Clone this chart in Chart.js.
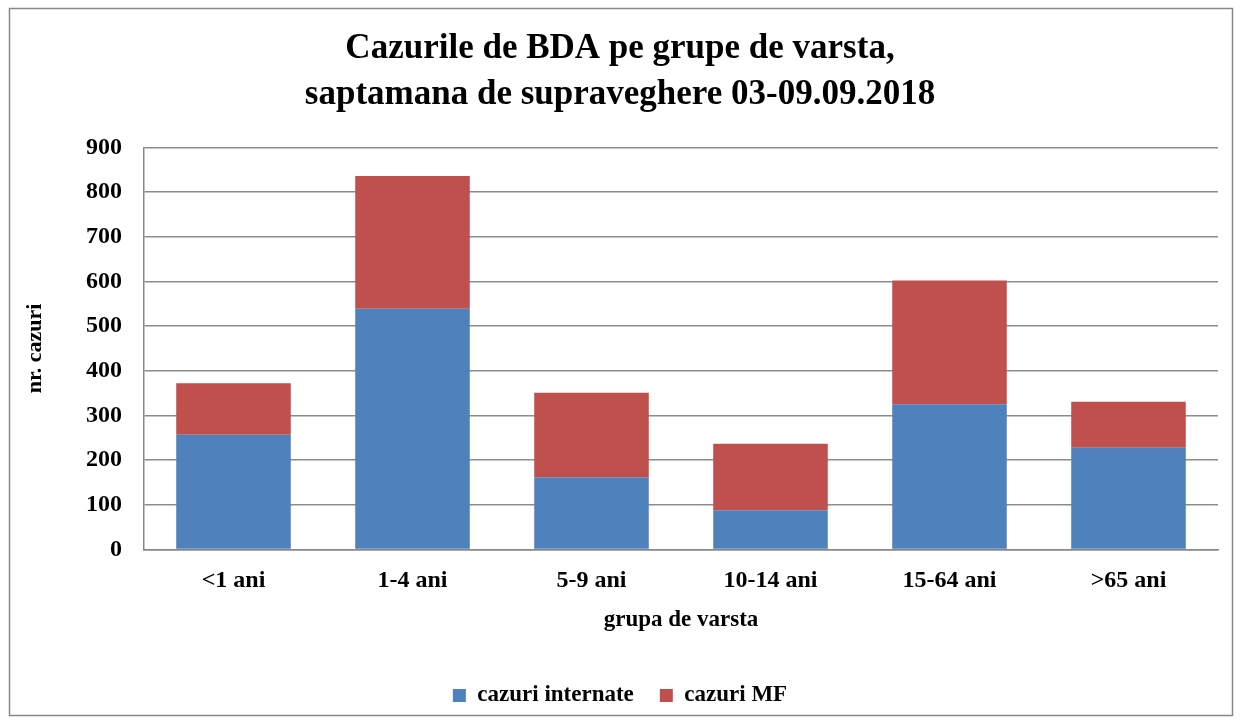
<!DOCTYPE html>
<html>
<head>
<meta charset="utf-8">
<script src="https://cdn.jsdelivr.net/npm/chart.js@4"></script>
<style>
    body { margin: 0; background: #fff; }
    #wrap { width: 1241px; height: 723px; position: relative; }
</style>
</head>
<body>
<div id="wrap"><canvas id="BdaChart"></canvas></div>
<script>
// Chart data
const ageGroups = ['<1 ani', '1-4 ani', '5-9 ani', '10-14 ani', '15-64 ani', '>65 ani'];
const casesHospital = [257, 539, 162, 88, 325, 228];
const casesFamilyDoctor = [115, 297, 189, 149, 277, 103];
const yTicks = [0, 100, 200, 300, 400, 500, 600, 700, 800, 900];

const serif = "'Liberation Serif', 'Times New Roman', serif";

// frame around the whole chart, like the office export
const framePlugin = {
    id: 'frame',
    beforeDraw(chart) {
        const ctx = chart.ctx;
        ctx.save();
        ctx.fillStyle = '#fff';
        ctx.fillRect(0, 0, chart.width, chart.height);
        ctx.strokeStyle = '#888';
        ctx.lineWidth = 1.5;
        ctx.strokeRect(9.5, 8.5, 1223, 707);
        ctx.restore();
    }
};

document.addEventListener("DOMContentLoaded", () => {
    const ctx = document.getElementById('BdaChart').getContext('2d');
    new Chart(ctx, {
        type: 'bar',
        data: {
            labels: ageGroups,
            datasets: [{
                label: 'cazuri internate',
                data: casesHospital,
                backgroundColor: '#4f81bd'
            }, {
                label: 'cazuri MF',
                data: casesFamilyDoctor,
                backgroundColor: '#c0504d'
            }]
        },
        options: {
            responsive: true,
            maintainAspectRatio: false,
            animation: false,
            layout: { padding: { left: 22, right: 23, top: 14, bottom: 6 } },
            datasets: { bar: { barPercentage: 0.64, categoryPercentage: 1 } },
            plugins: {
                title: {
                    display: true,
                    text: ['Cazurile de BDA pe grupe de varsta,', 'saptamana de supraveghere 03-09.09.2018'],
                    color: '#000',
                    font: { family: serif, size: 35, weight: 'bold', lineHeight: 1.32 },
                    padding: { top: 12, bottom: 29 }
                },
                legend: {
                    position: 'bottom',
                    labels: {
                        color: '#000',
                        boxWidth: 13,
                        boxHeight: 13,
                        padding: 26,
                        font: { family: serif, size: 23, weight: 'bold' }
                    }
                },
                tooltip: { enabled: false }
            },
            scales: {
                x: {
                    stacked: true,
                    grid: { display: false },
                    border: { color: '#888', width: 1.5 },
                    ticks: { color: '#000', padding: 9, font: { family: serif, size: 24, weight: 'bold' } },
                    title: {
                        display: true,
                        text: 'grupa de varsta',
                        color: '#000',
                        padding: { top: 2, bottom: 24 },
                        font: { family: serif, size: 23, weight: 'bold' }
                    }
                },
                y: {
                    stacked: true,
                    min: 0,
                    max: 900,
                    afterBuildTicks: (scale) => { scale.ticks = yTicks.map(v => ({ value: v })); },
                    afterFit: (scale) => { scale.width = 122; },
                    grid: { color: '#8c8c8c', lineWidth: 1.5, drawTicks: false },
                    border: { color: '#888', width: 1.5 },
                    ticks: { color: '#000', padding: 22, font: { family: serif, size: 24, weight: 'bold' } },
                    title: {
                        display: true,
                        text: 'nr. cazuri',
                        color: '#000',
                        padding: { top: 0, bottom: 6 },
                        font: { family: serif, size: 22, weight: 'bold' }
                    }
                }
            }
        },
        plugins: [framePlugin]
    });
});
</script>
</body>
</html>
